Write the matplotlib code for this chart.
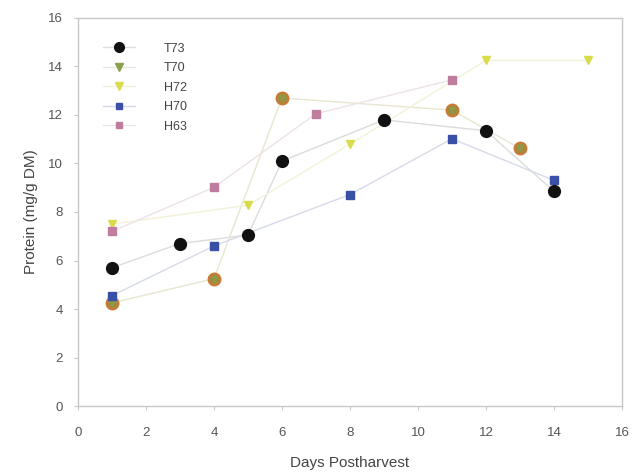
import matplotlib
matplotlib.use("Agg")
import matplotlib.pyplot as plt
from matplotlib.lines import Line2D

plt.rcParams["font.family"] = ["Liberation Sans", "DejaVu Sans"]

# ---- data ----
t73_x = [1, 3, 5, 6, 9, 12, 14]
t73_y = [5.7, 6.7, 7.05, 10.1, 11.8, 11.35, 8.85]

t70_x = [1, 4, 6, 11, 13]
t70_y = [4.25, 5.25, 12.7, 12.2, 10.62]

h72_x = [1, 5, 8, 12, 15]
h72_y = [7.5, 8.28, 10.8, 14.25, 14.25]

h70_x = [1, 4, 8, 11, 14]
h70_y = [4.55, 6.6, 8.72, 11.02, 9.3]

h63_x = [1, 4, 7, 11]
h63_y = [7.2, 9.02, 12.05, 13.45]

C_GRID = "#c8c8c8"
C_TXT = "#555555"

fig = plt.figure(figsize=(6.36, 4.72), dpi=100)
ax = fig.add_axes([0.1226, 0.1398, 0.8554, 0.8221])

# connecting lines (faint)
ax.plot(t73_x, t73_y, color="#d9ddd9", lw=1.0, zorder=1)
ax.plot(t70_x, t70_y, color="#e8e5d0", lw=1.0, zorder=1)
ax.plot(h72_x, h72_y, color="#f3f1d8", lw=1.0, zorder=1)
ax.plot(h70_x, h70_y, color="#d6dae8", lw=1.0, zorder=1)
ax.plot(h63_x, h63_y, color="#eee2e8", lw=1.0, zorder=1)

# markers
ax.plot(t73_x, t73_y, ls="none", marker="o", ms=8.5, color="#111111", zorder=4)
ax.plot(t70_x, t70_y, ls="none", marker="o", ms=8.5, mfc="#a08a40",
        mec="#cc7a35", mew=1.5, zorder=3)
ax.plot(t70_x, t70_y, ls="none", marker="v", ms=4, color="#8f9a45", zorder=3)
ax.plot(h72_x, h72_y, ls="none", marker="v", ms=6, color="#d9dc4a", zorder=3)
ax.plot(h70_x, h70_y, ls="none", marker="s", ms=5.5, color="#3a4fa6", zorder=3)
ax.plot(h63_x, h63_y, ls="none", marker="s", ms=5.5, color="#c07c9e", zorder=3)

ax.set_xlim(0, 16)
ax.set_ylim(0, 16)
ax.set_xticks(range(0, 17, 2))
ax.set_yticks(range(0, 17, 2))
ax.tick_params(direction="out", length=3, color=C_GRID, labelcolor=C_TXT,
               labelsize=9.5)
ax.tick_params(axis="x", pad=12)
ax.tick_params(axis="y", pad=8)
for s in ax.spines.values():
    s.set_color(C_GRID)
    s.set_linewidth(1.0)

ax.set_xlabel("Days Postharvest", fontsize=11, color="#444444", labelpad=12)
ax.set_ylabel("Protein (mg/g DM)", fontsize=11, color="#444444", labelpad=7)

handles = [
    Line2D([], [], color="#dddddd", lw=1, marker="o", ms=7, mfc="#111111",
           mec="#111111"),
    Line2D([], [], color="#e6e8dc", lw=1, marker="v", ms=5.5, mfc="#8aa050",
           mec="#8aa050"),
    Line2D([], [], color="#f3f1d8", lw=1, marker="v", ms=5.5, mfc="#d9dc4a",
           mec="#d9dc4a"),
    Line2D([], [], color="#d6dae8", lw=1, marker="s", ms=5, mfc="#3a4fa6",
           mec="#3a4fa6"),
    Line2D([], [], color="#eee2e8", lw=1, marker="s", ms=5, mfc="#c07c9e",
           mec="#c07c9e"),
]
labels = ["T73", "T70", "H72", "H70", "H63"]
leg = ax.legend(handles, labels, loc="upper left",
                bbox_to_anchor=(0.025, 0.965), frameon=False,
                fontsize=9, labelspacing=0.6, handlelength=2.6,
                handletextpad=2.3)
for t in leg.get_texts():
    t.set_color("#444444")

fig.savefig("out.png", dpi=100)
